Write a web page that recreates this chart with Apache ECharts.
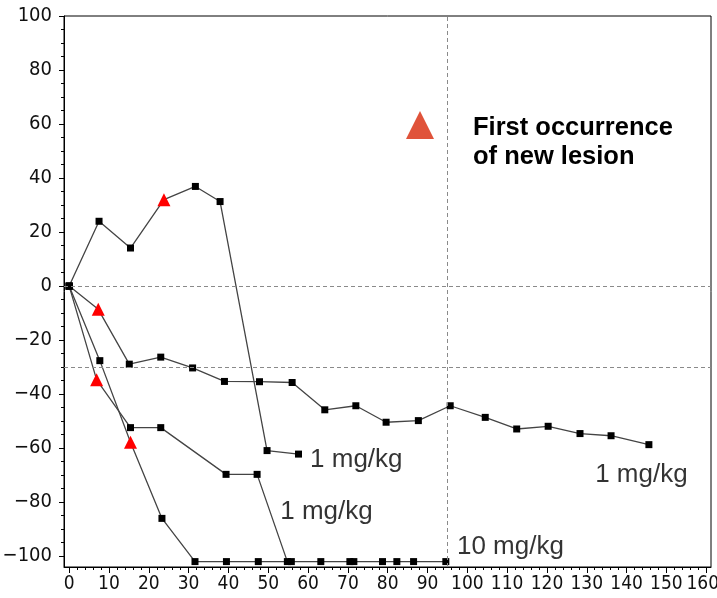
<!DOCTYPE html>
<html>
<head>
<meta charset="utf-8">
<script src="https://cdn.jsdelivr.net/npm/echarts@6/dist/echarts.min.js"></script>
<style>
html,body{margin:0;padding:0;background:#fff;}
#chart{width:717px;height:598px;}
</style>
</head>
<body>
<div id="chart"></div>
<script>
// ---- data ----
const xTicks = [0,10,20,30,40,50,60,70,80,90,100,110,120,130,140,150,160];
const yTicks = [-100,-80,-60,-40,-20,0,20,40,60,80,100];

const daysA = [0, 7.5, 15.4, 23.8, 31.7, 37.9, 49.7, 57.6];
const pctA  = [0, 24.0, 14.1, 32.0, 36.9, 31.3, -60.9, -62.2];
const lesionA = 3;

const daysB = [0, 7.3, 15.1, 23.0, 31.0, 39.0, 47.8, 56.0, 64.2, 72.0, 79.6, 87.7, 95.7, 104.5, 112.4, 120.3, 128.3, 136.1, 145.6];
const pctB  = [0, -8.6, -28.9, -26.3, -30.3, -35.3, -35.4, -35.7, -45.8, -44.3, -50.4, -49.8, -44.3, -48.6, -52.9, -51.9, -54.6, -55.4, -58.7];
const lesionB = 1;

const daysC = [0, 7.7, 15.4, 23.3, 31.6, 39.5, 47.5, 55.8, 63.2, 70.5, 71.5, 78.7, 82.3, 86.5, 94.6];
const pctC  = [0, -27.6, -57.8, -86.0, -102, -102, -102, -102, -102, -102, -102, -102, -102, -102, -102];
const lesionC = 2;

const daysD = [0, 6.9, 15.4, 23.0, 39.4, 47.2, 54.8];
const pctD  = [0, -34.7, -52.4, -52.4, -69.7, -69.7, -102];
const lesionD = 1;

const doseLabels = ['1 mg/kg', '1 mg/kg', '10 mg/kg', '1 mg/kg'];
const doseLabelX = [60.5, 53.0, 97.4, 132.1];
const doseLabelY = [-64.4, -83.7, -96.6, -70.0];

const refY = [0, -30];
const refX = [95];

const legendText = ['First occurrence', 'of new lesion'];

// ---- build ----
const tickFont = "'Liberation Sans Narrow','Arial Narrow','DejaVu Sans Condensed',sans-serif";
function buildData(days, pct, lesion){
  return days.map((d,i)=> i===lesion
    ? {value:[d,pct[i]], symbol:'triangle', symbolSize:13, itemStyle:{color:'#ff0000'}}
    : {value:[d,pct[i]]});
}
function lineSeries(name, days, pct, lesion, extra){
  return Object.assign({
    name, type:'line', data: buildData(days,pct,lesion),
    xAxisIndex:0, yAxisIndex:0,
    symbol:'rect', symbolSize:7, showSymbol:true,
    itemStyle:{color:'#000'},
    lineStyle:{color:'#444', width:1.3},
    z:3, animation:false
  }, extra||{});
}
const minorX = []; for(let v=2; v<=160; v+=2){ if(v%10!==0) minorX.push(v); }
const minorY = []; for(let v=-100; v<=100; v+=5){ if(v%20!==0) minorY.push(v); }
const xLabelsMain = xTicks.slice(0, -1);
const xLabelsLast = xTicks.slice(-1);
const X_MIN = -1.3, X_MAX = 161.2, Y_MIN = -104, Y_MAX = 100;

const chart = echarts.init(document.getElementById('chart'), null, {renderer:'canvas'});
const option = {
  animation:false,
  backgroundColor:'#fff',
  grid:{left:64, top:16, right:6, bottom:31, containLabel:false, outerBoundsMode:'none',
        show:true, borderColor:'#000', borderWidth:1, backgroundColor:'transparent'},
  xAxis:[{
    type:'value', min:X_MIN, max:X_MAX, position:'bottom',
    axisLine:{show:true, onZero:false, lineStyle:{color:'#000', width:1}},
    axisTick:{show:true, customValues:xTicks, length:6, lineStyle:{color:'#000'}},
    axisLabel:{show:true, customValues:xLabelsMain, color:'#111', fontSize:19, fontFamily:tickFont, margin:8,
      hideOverlap:false},
    splitLine:{show:false}
  },{
    type:'value', min:X_MIN, max:X_MAX, position:'bottom',
    axisLine:{show:false, onZero:false},
    axisTick:{show:true, customValues:minorX, length:3, lineStyle:{color:'#000'}},
    axisLabel:{show:false}, splitLine:{show:false}
  },{
    type:'value', min:X_MIN, max:X_MAX, position:'bottom',
    axisLine:{show:false, onZero:false},
    axisTick:{show:false},
    axisLabel:{show:true, customValues:xLabelsLast, margin:8, showMaxLabel:true, hideOverlap:false,
      formatter:v=>'{last|'+v+'}',
      rich:{last:{fontSize:19, fontFamily:tickFont, color:'#111', padding:[0,7,0,0]}}},
    splitLine:{show:false}
  }],
  yAxis:[{
    type:'value', min:Y_MIN, max:Y_MAX, position:'left',
    axisLine:{show:true, onZero:false, lineStyle:{color:'#000', width:1}},
    axisTick:{show:true, customValues:yTicks, length:5, lineStyle:{color:'#000'}},
    axisLabel:{show:true, customValues:yTicks, color:'#111', fontSize:20, fontFamily:tickFont, margin:12,
      showMaxLabel:true, showMinLabel:true,
      formatter:v=> v<0 ? '\u2212'+Math.abs(v) : String(v)},
    splitLine:{show:false}
  },{
    type:'value', min:Y_MIN, max:Y_MAX, position:'left',
    axisLine:{show:false, onZero:false},
    axisTick:{show:true, customValues:minorY, length:3, lineStyle:{color:'#000'}},
    axisLabel:{show:false}, splitLine:{show:false}
  }],
  series:[
    lineSeries('A', daysA, pctA, lesionA, {
      markLine:{
        silent:true, symbol:['none','none'], animation:false,
        label:{show:false},
        lineStyle:{type:[4,3], color:'#8a8a8a', width:1},
        data: refY.map(v=>({yAxis:v})).concat(refX.map(v=>({xAxis:v})))
      }
    }),
    lineSeries('B', daysB, pctB, lesionB),
    lineSeries('C', daysC, pctC, lesionC),
    lineSeries('D', daysD, pctD, lesionD),
    {
      type:'scatter', name:'labels', symbolSize:0, animation:false,
      data: doseLabels.map((t,i)=>({value:[doseLabelX[i], doseLabelY[i]], name:t})),
      label:{show:true, position:'right', distance:0, formatter:p=>p.name,
        color:'#000', fontSize:26, fontFamily:"'Liberation Sans',Arial,sans-serif"},
      silent:true, z:5
    }
  ],
  graphic:[
    {type:'polygon', shape:{points:[[406,139],[434,139],[420,111]]}, style:{fill:'#e0533a'}, z:10},
    {type:'text', x:473, y:128, style:{text:legendText[0], fill:'#000', font:"bold 25.5px 'Liberation Sans',Arial,sans-serif", textVerticalAlign:'middle'}, z:10},
    {type:'text', x:473, y:157, style:{text:legendText[1], fill:'#000', font:"bold 25.5px 'Liberation Sans',Arial,sans-serif", textVerticalAlign:'middle'}, z:10}
  ]
};
chart.setOption(option);
</script>
</body>
</html>
